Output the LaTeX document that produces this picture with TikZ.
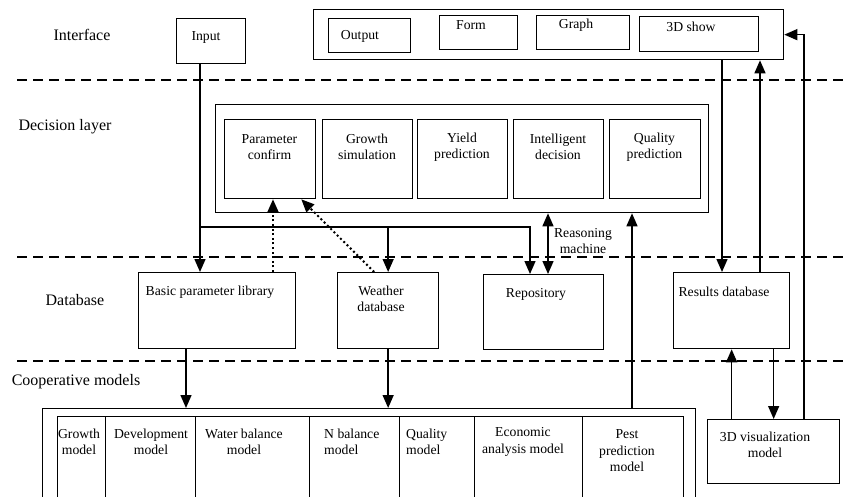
\documentclass[tikz,border=0pt]{standalone}
\usepackage{fontspec}
\setmainfont{Liberation Serif}
\usetikzlibrary{arrows.meta}
\tikzset{dlbx/.style 2 args={draw,line width=1.3pt,inner sep=0pt,anchor=north west,minimum width=#1,minimum height=#2},
         dltx/.style={font=\fontsize{13.7}{16.5}\selectfont,align=center,inner sep=0pt},
         dllay/.style={font=\fontsize{16}{19}\selectfont,inner sep=0pt},
         dlln/.style={line width=1.4pt},
         dldot/.style={line width=2pt,dash pattern=on 2pt off 2.6pt},
         dlsep/.style={line width=1.5pt,dash pattern=on 10pt off 6pt},
         >={Triangle[length=13pt,width=11pt]}}

\begin{document}
\begin{tikzpicture}[x=1pt,y=-1pt]
  \useasboundingbox (0,0) rectangle (844,496);
  \clip (0,0) rectangle (844,496);
  % layer separators and layer names
  \foreach \y in {80,257,361} \draw[dlsep] (17,\y) -- (844,\y);
  \node[dllay] (lint) at (82,35) {Interface};
  \node[dllay] (ldec) at (65,127) {Decision layer};
  \node[dllay] (ldb) at (75,300) {Database};
  \node[dllay] (lcoop) at (76,382) {Cooperative models};
  % interface
  \node[dlbx={69pt}{45pt}] (inp) at (176,18) {};
  \node[dltx] (tinp) at (206,37) {Input};
  \node[dlbx={470pt}{50pt}] (intf) at (313,9) {};
  \node[dlbx={82pt}{34pt}] (outp) at (328,18) {};
  \node[dlbx={78pt}{34pt}] (form) at (439,15) {};
  \node[dlbx={93pt}{34pt}] (grph) at (536,15) {};
  \node[dlbx={119pt}{35pt}] (show) at (639,16) {};
  \node[dltx] (toutp) at (360,36) {Output};
  \node[dltx] (tform) at (471,25) {Form};
  \node[dltx] (tgrph) at (576,25) {Graph};
  \node[dltx] (tshow) at (691,27) {3D show};
  % decision layer
  \node[dlbx={493pt}{108pt}] (dec) at (215,104) {};
  \foreach \n/\a/\b/\t in {pcf/224/315/Parameter\\confirm,gsm/322/412/Growth\\simulation,yld/417/507/Yield\\prediction,itd/513/603/Intelligent\\decision,qpr/609/700/Quality\\prediction}
    {\node[dlbx={(\b-\a)*1pt}{79pt}] (\n) at (\a,119) {};
     \node[dltx] (t\n) at ({(\a+\b)/2},147) {\t};}
  % database
  \node[dlbx={157pt}{76pt}] (bpl) at (138,272) {};
  \node[dlbx={101pt}{76pt}] (wdb) at (337,272) {};
  \node[dlbx={120pt}{75pt}] (rep) at (483,274) {};
  \node[dlbx={116pt}{76pt}] (rdb) at (673,272) {};
  \node[dltx] (tbpl) at (210,292) {Basic parameter library};
  \node[dltx] (twdb) at (381,299) {Weather\\database};
  \node[dltx] (trep) at (536,294) {Repository};
  \node[dltx] (trdb) at (724,292) {Results database};
  % cooperative models
  \node[dlbx={653pt}{120pt}] (coop) at (42,408) {};
  \foreach \n/\a/\b in {cgr/57/105,cdv/105/195,cwb/195/309,cnb/309/399,cql/399/474,cec/474/582,cpe/582/683}
    \node[dlbx={(\b-\a)*1pt}{112pt}] (\n) at (\a,416) {};
  \node[dltx] (tcgr) at (79,442) {Growth\\model};
  \node[dltx] (tcdv) at (151,442) {Development\\model};
  \node[dltx] (tcwb) at (244,442) {Water balance\\model};
  \node[dltx,anchor=west,align=left] (tcnb) at (324,442) {N balance\\model};
  \node[dltx,anchor=west,align=left] (tcql) at (406,442) {Quality\\model};
  \node[dltx] (tcec) at (523,442) {Economic\\analysis model};
  \node[dltx] (tcpe) at (627,451) {Pest\\prediction\\model};
  \node[dlbx={132pt}{64pt}] (vis) at (707,419) {};
  \node[dltx] (tvis) at (765,445) {3D visualization\\model};
  \node[dltx] (trm) at (583,241) {Reasoning\\machine};
  % connectors
  \coordinate (jn) at (200,227);
  \coordinate (xr) at (530,0);
  \coordinate (xd) at (273,0);
  \coordinate (xm) at (548,0);
  \coordinate (xp) at (632,0);
  \coordinate (xs) at (722,0);
  \coordinate (xu) at (760,0);
  \coordinate (cv) at (804,0);
  \coordinate (xb) at (186,0);
  \draw[dlln] (inp.south -| jn) -- (jn);
  \draw[dlln,->] (jn) -- (jn |- bpl.north);
  \draw[dlln,->] (jn) -| (xr |- rep.north);
  \draw[dlln,->] (jn -| wdb.north) -- (wdb.north);
  \draw[dldot,->] (xd |- bpl.north) -- (xd |- pcf.south);
  \draw[dldot,->] ([xshift=-14pt]wdb.north) -- ([xshift=-15pt]pcf.south east);
  \draw[dlln,<->] (xm |- dec.south) -- (xm |- rep.north);
  \draw[dlln,->] (xp |- coop.north) -- (xp |- dec.south);
  \draw[dlln,->] (xs |- intf.south) -- (xs |- rdb.north);
  \draw[dlln,->] (xu |- rdb.north) -- (xu |- intf.south);
  \draw[dlln,->] (cv |- vis.north) |- (intf.east);
  \draw[dlln,->] (rdb.south |- vis.north) -- (rdb.south);
  \draw[dlln,->] (rdb.south -| vis.north) -- (vis.north);
  \draw[dlln,->] (xb |- bpl.south) -- (xb |- coop.north);
  \draw[dlln,->] (wdb.south) -- (wdb.south |- coop.north);
\end{tikzpicture}
\end{document}
